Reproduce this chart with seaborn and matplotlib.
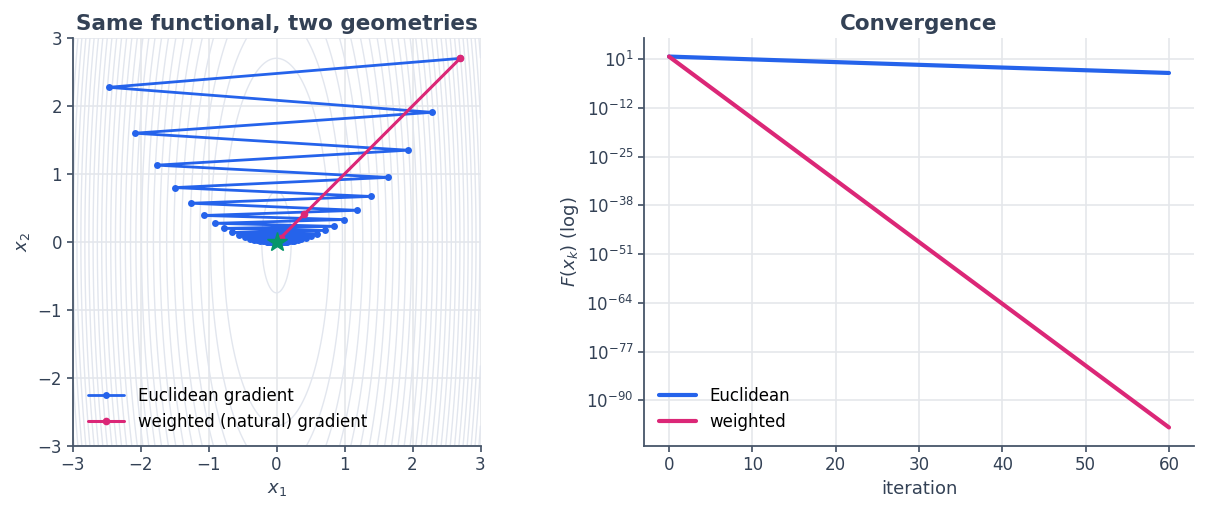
import matplotlib

matplotlib.use("Agg")
import matplotlib.pyplot as plt
import numpy as np
import pandas as pd
import seaborn as sns

# functional F(x) = 0.5 * (A1 * x1^2 + A2 * x2^2), only used for the background contours
A1, A2 = 12.0, 1.0
CONTOUR_LEVELS = [0.28] + [3.65 + 2.0 * k for k in range(28)]

# Euclidean gradient iterates
euclid_x1 = [
    2.70, -2.47, 2.285, -2.085, 1.93, -1.76, 1.64, -1.50, 1.385, -1.26,
    1.185, -1.07, 0.995, -0.90, 0.85, -0.77, 0.715, -0.65, 0.602, -0.554,
    0.509, -0.469, 0.431, -0.397, 0.365, -0.336, 0.309, -0.284, 0.261, -0.240,
    0.221, -0.204, 0.187, -0.172, 0.159, -0.146, 0.134, -0.123, 0.114, -0.105,
    0.096, -0.088, 0.081, -0.075, 0.069, -0.063, 0.058, -0.054, 0.049, -0.045,
    0.042, -0.038, 0.035, -0.032, 0.030, -0.027, 0.025, -0.023, 0.021, -0.020,
    0.018,
]
euclid_x2 = [
    2.70, 2.275, 1.907, 1.60, 1.35, 1.13, 0.95, 0.80, 0.67, 0.57,
    0.466, 0.39, 0.33, 0.275, 0.23, 0.20, 0.17, 0.14, 0.117, 0.098,
    0.083, 0.069, 0.058, 0.049, 0.041, 0.035, 0.029, 0.024, 0.020, 0.017,
    0.014, 0.012, 0.010, 0.009, 0.007, 0.006, 0.005, 0.004, 0.004, 0.003,
    0.003, 0.002, 0.002, 0.002, 0.001, 0.001, 0.001, 0.001, 0.001, 0.001,
    0.0, 0.0, 0.0, 0.0, 0.0, 0.0, 0.0, 0.0, 0.0, 0.0,
    0.0,
]

# weighted (natural) gradient iterates
natural_x1 = [2.70, 0.405, 0.061, 0.009, 0.001, 0.0]
natural_x2 = [2.70, 0.405, 0.061, 0.009, 0.001, 0.0]

minimum = (0.0, 0.0)

# convergence curves F(x_k), sampled every 10 iterations
iterations = [0, 10, 20, 30, 40, 50, 60]
f_euclid = [47.4, 8.37, 1.56, 0.294, 0.0555, 0.0105, 0.00198]
f_weighted = [47.4, 1.6e-15, 5.3e-32, 1.7e-48, 5.8e-65, 1.9e-81, 6.3e-98]

BLUE = "#2563eb"
PINK = "#db2777"
GREEN = "#059669"
INK = "#334155"
GRID = "#e5e7eb"

sns.set_theme(style="whitegrid")
plt.rcParams.update(
    {
        "font.family": ["DejaVu Sans"],
        "axes.edgecolor": "#475569",
        "axes.linewidth": 1.3,
        "axes.labelcolor": INK,
        "text.color": INK,
        "xtick.color": "#475569",
        "ytick.color": "#475569",
        "xtick.labelcolor": INK,
        "ytick.labelcolor": INK,
        "xtick.bottom": True,
        "ytick.left": True,
        "xtick.major.size": 4,
        "ytick.major.size": 4,
        "grid.color": GRID,
        "grid.linewidth": 1.2,
    }
)

fig = plt.figure(figsize=(12.06, 5.12), dpi=100)
ax1 = fig.add_axes([72 / 1206, 1 - 446 / 512, 409 / 1206, 408 / 512])
ax2 = fig.add_axes([644 / 1206, 1 - 446 / 512, 550 / 1206, 408 / 512])

# left panel: contours + paths
g = np.linspace(-3, 3, 400)
X1, X2 = np.meshgrid(g, g)
F = 0.5 * (A1 * X1**2 + A2 * X2**2)
ax1.contour(X1, X2, F, levels=CONTOUR_LEVELS, colors="#e2e6ee", linewidths=1.0, zorder=1)

sns.lineplot(
    x=euclid_x1, y=euclid_x2, sort=False, estimator=None, ax=ax1,
    color=BLUE, lw=2, marker="o", markersize=5, markeredgewidth=0,
    label="Euclidean gradient", zorder=3,
)
sns.lineplot(
    x=natural_x1, y=natural_x2, sort=False, estimator=None, ax=ax1,
    color=PINK, lw=2.2, marker="o", markersize=5.5, markeredgewidth=0,
    label="weighted (natural) gradient", zorder=4,
)
ax1.plot(*minimum, marker="*", color=GREEN, markersize=15, ls="none", zorder=5)

ax1.set_xlim(-3, 3)
ax1.set_ylim(-3, 3)
ax1.set_aspect("equal")
ax1.set_xlabel("$x_1$", fontsize=13)
ax1.set_ylabel("$x_2$", fontsize=13)
ax1.set_title("Same functional, two geometries", fontsize=15.5, fontweight="bold", color=INK)
ax1.tick_params(labelsize=12)
ax1.legend(loc="lower left", frameon=False, fontsize=12, handlelength=2.2, labelcolor="black")
sns.despine(ax=ax1)

# right panel: convergence
conv = pd.DataFrame(
    {
        "iteration": iterations * 2,
        "F": f_euclid + f_weighted,
        "method": ["Euclidean"] * len(iterations) + ["weighted"] * len(iterations),
    }
)
sns.lineplot(
    data=conv, x="iteration", y="F", hue="method",
    palette={"Euclidean": BLUE, "weighted": PINK}, lw=3, ax=ax2,
)
ax2.set_yscale("log")
ax2.set_xlabel("iteration", fontsize=13)
ax2.set_ylabel("$F(x_k)$ (log)", fontsize=13)
ax2.set_title("Convergence", fontsize=15.5, fontweight="bold", color=INK)
ax2.tick_params(labelsize=12)
ax2.legend(loc="lower left", frameon=False, fontsize=12, title=None, handlelength=2.2, labelcolor="black")
sns.despine(ax=ax2)

fig.savefig("out.png", dpi=100)
